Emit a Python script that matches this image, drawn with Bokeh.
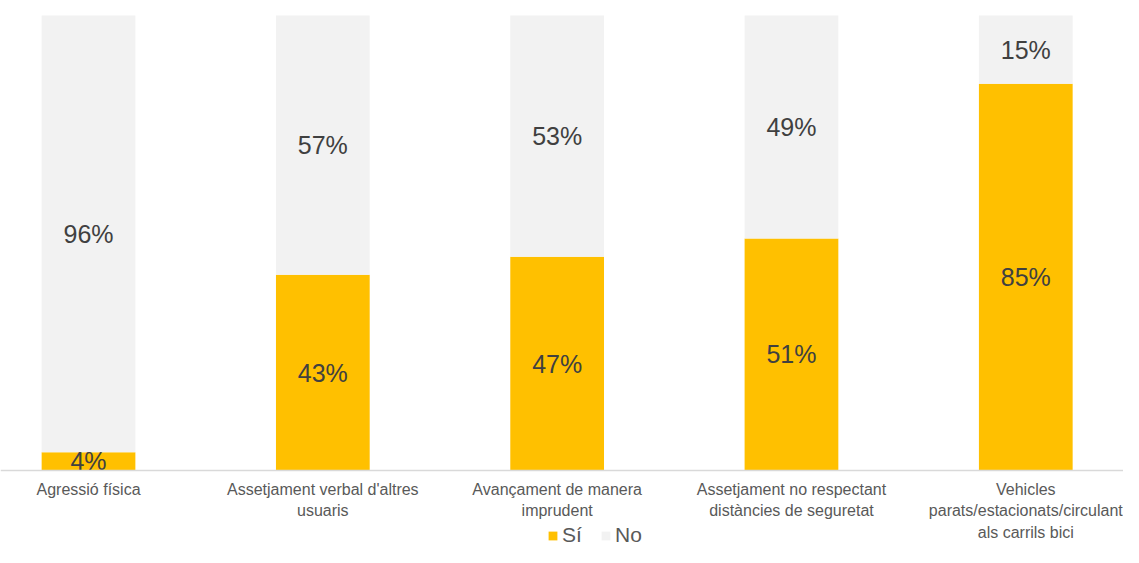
from bokeh.plotting import figure
from bokeh.models import ColumnDataSource, Range1d, Span, Legend, LegendItem
from bokeh.core.properties import value
from bokeh.embed import file_html
from bokeh.resources import INLINE

categories = [
    "Agressió física",
    "Assetjament verbal d'altres\nusuaris",
    "Avançament de manera\nimprudent",
    "Assetjament no respectant\ndistàncies de seguretat",
    "Vehicles\nparats/estacionats/circulant\nals carrils bici",
]
si_values = [4, 43, 47, 51, 85]
no_values = [96, 57, 53, 49, 15]
series_names = ["Sí", "No"]
colors = ["#FFC000", "#F2F2F2"]

FONT = "Liberation Sans"
xs = list(range(len(categories)))
no_top = [s + n for s, n in zip(si_values, no_values)]

src = ColumnDataSource(dict(
    x=xs, cat=categories,
    zero=[0] * len(xs), si_top=si_values, no_top=no_top,
    si_mid=[s / 2 for s in si_values],
    no_mid=[s + n / 2 for s, n in zip(si_values, no_values)],
    si_lbl=[f"{v}%" for v in si_values],
    no_lbl=[f"{v}%" for v in no_values],
    lbl_y=[-2.35] * len(xs),
))

p = figure(width=1123, height=547, output_backend="svg", toolbar_location=None,
           x_range=Range1d(-0.3756, 4.417), y_range=Range1d(-16.92, 103.30),
           min_border=0, outline_line_color=None)
p.axis.visible = False
p.grid.visible = False
p.background_fill_color = "white"
p.border_fill_color = "white"

r_si = p.vbar(x="x", bottom="zero", top="si_top", width=0.40, source=src,
              fill_color=colors[0], line_color=None)
r_no = p.vbar(x="x", bottom="si_top", top="no_top", width=0.40, source=src,
              fill_color=colors[1], line_color=None)

p.add_layout(Span(location=0, dimension="width", line_color="#D9D9D9", line_width=1.5))

p.text(x="x", y="si_mid", text="si_lbl", source=src, text_align="center",
       text_baseline="middle", text_font=value(FONT), text_font_size="25px",
       text_color="#404040")
p.text(x="x", y="no_mid", text="no_lbl", source=src, text_align="center",
       text_baseline="middle", text_font=value(FONT), text_font_size="25px",
       text_color="#404040")
p.text(x="x", y="lbl_y", text="cat", source=src, text_align="center",
       text_baseline="top", text_font=value(FONT), text_font_size="16px",
       text_color="#595959", text_line_height=1.25)

legend = Legend(items=[LegendItem(label=series_names[0], renderers=[r_si]),
                       LegendItem(label=series_names[1], renderers=[r_no])],
                orientation="horizontal", location=(547, 0),
                label_text_font=FONT, label_text_font_size="21px",
                label_text_color="#595959", glyph_width=11, glyph_height=11,
                label_standoff=4, spacing=18, padding=0, margin=0,
                border_line_color=None, background_fill_alpha=0)
p.add_layout(legend, "center")

open("out.html", "w").write(file_html(p, INLINE))
